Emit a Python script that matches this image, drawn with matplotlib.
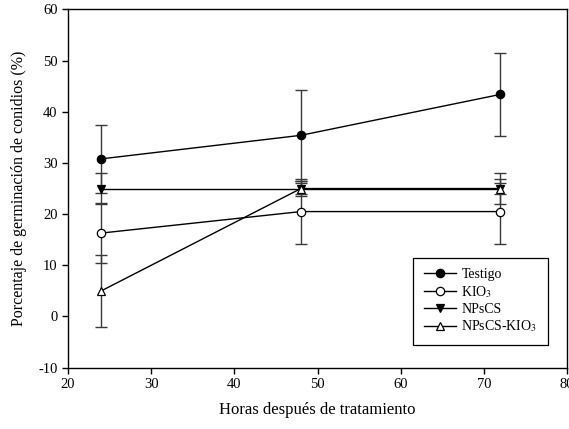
import numpy as np
import matplotlib.pyplot as plt

plt.rcParams['font.family'] = ['Liberation Serif', 'DejaVu Serif']
plt.rcParams['mathtext.fontset'] = 'stix'
plt.rcParams['axes.unicode_minus'] = False

horas = [24, 48, 72]

testigo = [30.8, 35.4, 43.4]
testigo_err = [6.7, 8.9, 8.1]
kio3 = [16.3, 20.5, 20.5]
kio3_err = [5.8, 6.3, 6.3]
npscs = [25.0, 25.0, 25.0]
npscs_err = [3.0, 1.0, 1.0]
npscs_kio3 = [5.0, 25.0, 25.0]
npscs_kio3_err = [7.0, 1.5, 3.0]

series = [
    ('Testigo', testigo, testigo_err, 'o', 'black'),
    ('KIO$_3$', kio3, kio3_err, 'o', 'white'),
    ('NPsCS', npscs, npscs_err, 'v', 'black'),
    ('NPsCS-KIO$_3$', npscs_kio3, npscs_kio3_err, '^', 'white'),
]

fig = plt.figure(figsize=(5.69, 4.29), dpi=100)
ax = fig.add_axes([0.1195, 0.143, 0.877, 0.835])

for nombre, y, err, mk, fc in series:
    ax.errorbar(horas, y, yerr=err, fmt='none', ecolor='#3a3a3a',
                elinewidth=1, capsize=4, capthick=1, zorder=2)
    ax.plot(horas, y, color='black', lw=1, marker=mk, markersize=6,
            markerfacecolor=fc, markeredgecolor='black', markeredgewidth=0.9,
            label=nombre, zorder=3)

ax.set_xlim(20, 80)
ax.set_ylim(-10, 60)
ax.set_xticks(np.arange(20, 81, 10))
ax.set_yticks(np.arange(-10, 61, 10))
ax.tick_params(direction='out', length=4, width=1, labelsize=10.5,
               top=False, right=False)
for sp in ax.spines.values():
    sp.set_linewidth(1)

ax.set_xlabel('Horas después de tratamiento', fontsize=12, labelpad=8)
ax.set_ylabel('Porcentaje de germinación de conidios (%)', fontsize=11.5,
              labelpad=8)

leg = ax.legend(loc='lower right', bbox_to_anchor=(0.975, 0.045),
                fontsize=10, fancybox=False, framealpha=1,
                edgecolor='black', handlelength=2.3, handletextpad=0.4,
                labelspacing=0.2, borderpad=0.75)
leg.get_frame().set_linewidth(0.9)

fig.savefig('out.png', dpi=100)
